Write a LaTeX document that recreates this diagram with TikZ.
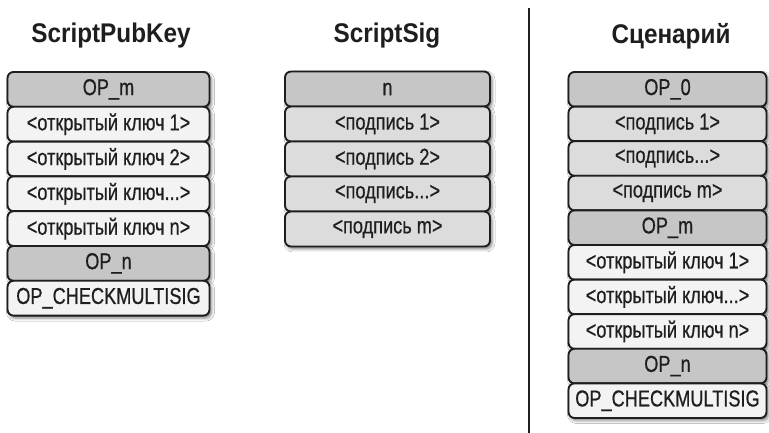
\documentclass[tikz,border=0pt]{standalone}
\usepackage{fontspec}
\setmainfont{Liberation Sans}
\newfontfamily\boxfont{Liberation Sans}[FakeStretch=0.79,FakeBold=0.6]
\newfontfamily\titlefont{Liberation Sans}[FakeStretch=0.9]
\usetikzlibrary{shadows.blur}
\definecolor{opfill}{HTML}{C6C6C6}
\definecolor{sigfill}{HTML}{DCDCDC}
\definecolor{keyfill}{HTML}{F3F3F3}
\definecolor{ink}{HTML}{1E1E1E}
\begin{document}
\begin{tikzpicture}[x=1pt,y=1pt,
  cell/.style={draw=ink, line width=1.9pt, rounded corners=6pt, text=ink,
    font=\boxfont\fontsize{23}{25}\selectfont, inner sep=0pt,
    blur shadow={shadow xshift=2pt, shadow yshift=-2.5pt, shadow blur radius=3pt, shadow opacity=50}},
  lcell/.style={cell, minimum width=202pt, minimum height=34.8pt},
  mcell/.style={cell, minimum width=205pt, minimum height=35pt},
  rcell/.style={cell, minimum width=198pt, minimum height=34.6pt},
  opc/.style={fill=opfill},
  sigc/.style={fill=sigfill},
  keyc/.style={fill=keyfill},
  titlestyle/.style={font=\titlefont\bfseries\fontsize{27}{30}\selectfont, text=ink}]
\useasboundingbox (0,0) rectangle (769,433);
\fill[white] (0,0) rectangle (769,433);

% titles
\node[titlestyle] (t1) at (111,397) {ScriptPubKey};
\node[titlestyle] (t2) at (387,397) {ScriptSig};
\node[titlestyle] (t3) at (671,397) {Сценарий};

% separator
\coordinate (vtop) at (529,425);
\coordinate (vbot) at (529,0);
\draw[ink, line width=2.5pt] (vtop) -- (vbot);

% left column
\node[lcell, opc]  (l1) at (108.5,343.6) {OP\_m};
\node[lcell, keyc] (l2) at (108.5,308.8) {<открытый ключ 1>};
\node[lcell, keyc] (l3) at (108.5,274.0) {<открытый ключ 2>};
\node[lcell, keyc] (l4) at (108.5,239.2) {<открытый ключ...>};
\node[lcell, keyc] (l5) at (108.5,204.4) {<открытый ключ n>};
\node[lcell, opc]  (l6) at (108.5,169.6) {OP\_n};
\node[lcell, keyc] (l7) at (108.5,134.8) {OP\_CHECKMULTISIG};

% middle column
\node[mcell, opc]  (m1) at (387.5,344) {n};
\node[mcell, sigc] (m2) at (387.5,309) {<подпись 1>};
\node[mcell, sigc] (m3) at (387.5,274) {<подпись 2>};
\node[mcell, sigc] (m4) at (387.5,239) {<подпись...>};
\node[mcell, sigc] (m5) at (387.5,204) {<подпись m>};

% right column
\node[rcell, opc]  (r1)  at (667.5,343.7) {OP\_0};
\node[rcell, sigc] (r2)  at (667.5,309.1) {<подпись 1>};
\node[rcell, sigc] (r3)  at (667.5,274.5) {<подпись...>};
\node[rcell, sigc] (r4)  at (667.5,239.9) {<подпись m>};
\node[rcell, opc]  (r5)  at (667.5,205.3) {OP\_m};
\node[rcell, keyc] (r6)  at (667.5,170.7) {<открытый ключ 1>};
\node[rcell, keyc] (r7)  at (667.5,136.1) {<открытый ключ...>};
\node[rcell, keyc] (r8)  at (667.5,101.5) {<открытый ключ n>};
\node[rcell, opc]  (r9)  at (667.5,66.9)  {OP\_n};
\node[rcell, keyc] (r10) at (667.5,32.3)  {OP\_CHECKMULTISIG};
\end{tikzpicture}
\end{document}
